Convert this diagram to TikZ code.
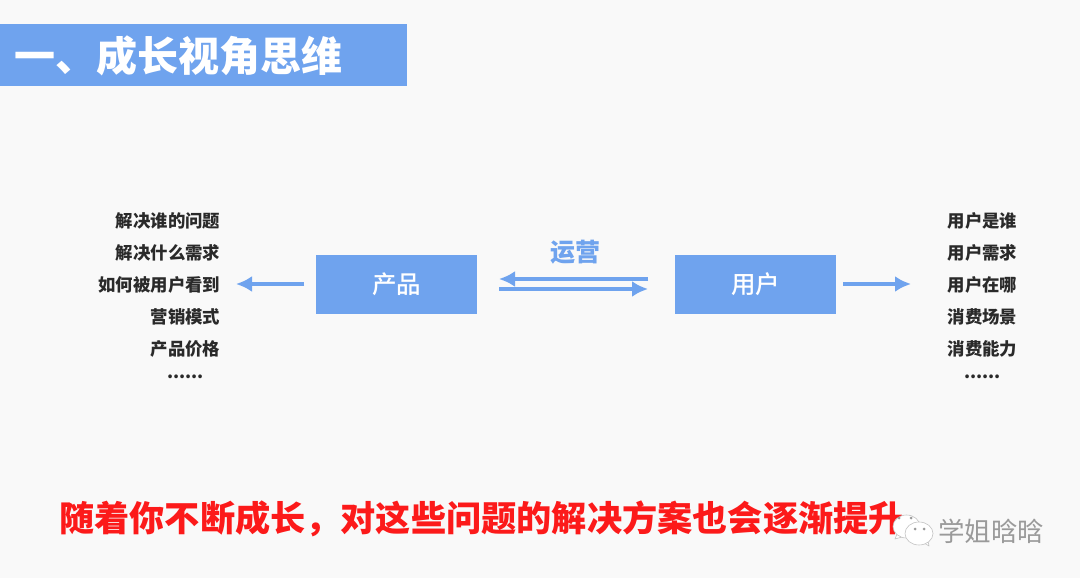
\documentclass[tikz,border=0pt]{standalone}
\usepackage{fontspec}
\setmainfont{Noto Sans CJK SC}
\newfontfamily\mediumcjk{Noto Sans CJK SC Medium}
\usetikzlibrary{arrows.meta,shapes.geometric}
\definecolor{bluefill}{HTML}{6FA3EE}
\definecolor{pagebg}{HTML}{F9F9F9}
\definecolor{redtext}{HTML}{FC1A1A}
\definecolor{darktext}{HTML}{2A2A2A}
\definecolor{marktext}{HTML}{9A9A9A}
\begin{document}
\begin{tikzpicture}[x=1pt,y=-1pt,
  box/.style={fill=bluefill, text=white, minimum width=161pt, minimum height=59pt, inner sep=0pt, font=\fontsize{24.5}{24.5}\mediumcjk},
  item/.style={text=darktext, inner sep=0pt, font=\fontsize{17.4}{17.4}\selectfont\bfseries},
  flow/.style={-{Latex[length=16pt,width=16pt]}, bluefill, line width=4pt},
  bubble/.style={ellipse, draw=marktext!60, fill=white, line width=.6pt, inner sep=0pt},
  tail/.style={draw=marktext!60, fill=white, line width=.6pt, line join=round},
  eye/.style={circle, fill=marktext, minimum size=3pt, inner sep=0pt}
]
\useasboundingbox (0,0) rectangle (1080,578);
\fill[pagebg] (0,0) rectangle (1080,578);
\node[fill=bluefill, minimum width=407pt, minimum height=62pt, inner sep=0pt] (banner) at (203.5,55) {};
\node[text=white, anchor=west, inner sep=0pt, font=\fontsize{41}{41}\selectfont\bfseries] (title) at (14,56) {一、成长视角思维};
\node[box] (product) at (396.5,284.5) {产品};
\node[box] (user) at (755.5,284.5) {用户};
\node[text=bluefill, inner sep=0pt, font=\fontsize{25}{25}\selectfont\bfseries] (ops) at (575,252) {运营};
\coordinate (leftstart) at (304,284);
\coordinate (leftend) at (236,284);
\coordinate (rightstart) at (843,284);
\coordinate (rightend) at (911,284);
\coordinate (opsa) at (499,279);
\coordinate (opsb) at (648,279);
\coordinate (opsc) at (499,289);
\coordinate (opsd) at (648,289);
\draw[flow] (leftstart) -- (leftend);
\draw[flow] (rightstart) -- (rightend);
\draw[flow, line width=3.5pt] (opsb) -- (opsa);
\draw[flow, line width=3.5pt] (opsc) -- (opsd);
\node[item, anchor=east] (pa) at (220.5,221) {解决谁的问题};
\node[item, anchor=east] (pb) at (220.5,253) {解决什么需求};
\node[item, anchor=east] (pc) at (220.5,285) {如何被用户看到};
\node[item, anchor=east] (pd) at (220.5,317) {营销模式};
\node[item, anchor=east] (pe) at (220.5,349) {产品价格};
\node[item] (pf) at (185.5,377) {......};
\node[item, anchor=east] (ua) at (1017.5,221) {用户是谁};
\node[item, anchor=east] (ub) at (1017.5,253) {用户需求};
\node[item, anchor=east] (uc) at (1017.5,285) {用户在哪};
\node[item, anchor=east] (ud) at (1017.5,317) {消费场景};
\node[item, anchor=east] (ue) at (1017.5,349) {消费能力};
\node[item] (uf) at (982.5,377) {......};
\node[text=redtext, anchor=west, inner sep=0pt, font=\fontsize{35.2}{35.2}\selectfont\bfseries] (summary) at (59,519) {随着你不断成长，对这些问题的解决方案也会逐渐提升};
\draw[tail] (897,534) -- (895,539) -- (902,537) -- cycle;
\node[bubble, minimum width=27pt, minimum height=23pt] (bubblea) at (906.5,526.5) {};
\node[eye] (eyea) at (899,518) {};
\node[eye] (eyeb) at (911,518) {};
\draw[tail] (924,543) -- (929,546) -- (928,541) -- cycle;
\node[bubble, minimum width=28pt, minimum height=23pt] (bubbleb) at (919,533.5) {};
\node[eye] (eyec) at (915,529) {};
\node[eye] (eyed) at (924,529) {};
\node[text=marktext, anchor=west, inner sep=0pt, font=\fontsize{26.5}{26.5}\selectfont] (mark) at (938,531) {学姐晗晗};
\end{tikzpicture}
\end{document}
